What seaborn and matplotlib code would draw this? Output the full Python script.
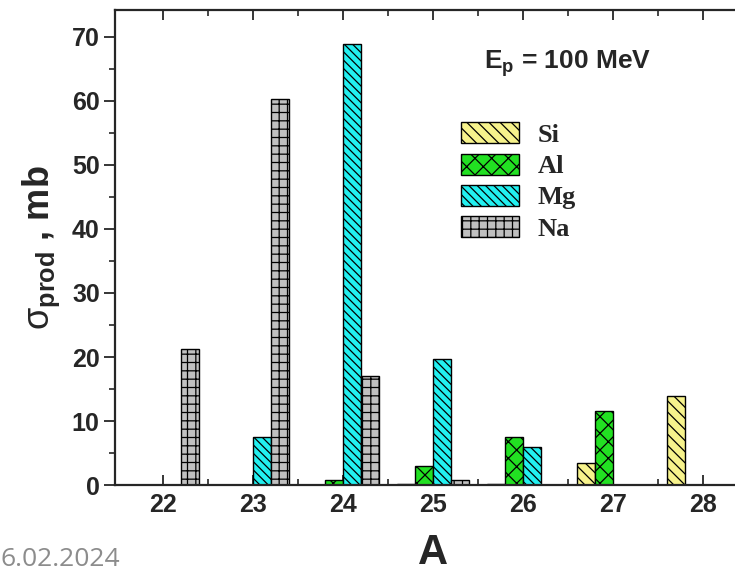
import numpy as np
import pandas as pd
import matplotlib
matplotlib.use("Agg")
import matplotlib.pyplot as plt
from matplotlib.patches import Patch
from matplotlib.ticker import MultipleLocator, FixedLocator
import seaborn as sns

# data (cross section, mb)
mass = ["22", "23", "24", "25", "26", "27", "28"]
si = [np.nan, np.nan, np.nan, 0.2, 0.2, 3.5, 13.9]
al = [np.nan, np.nan, 0.8, 2.9, 7.5, 11.5, np.nan]
mg = [np.nan, 7.5, 68.9, 19.7, 6.0, np.nan, np.nan]
na = [21.2, 60.3, 17.1, 0.8, np.nan, np.nan, np.nan]
elements = ["Si", "Al", "Mg", "Na"]

colors = {"Si": "#f7f38c", "Al": "#22e022", "Mg": "#22f0f0", "Na": "#c0c0c0"}
hatches = {"Si": "\\\\\\", "Al": "xx", "Mg": "\\\\\\\\", "Na": "++"}

df = pd.DataFrame({"A": mass, "Si": si, "Al": al, "Mg": mg, "Na": na})
df = df.melt(id_vars="A", var_name="element", value_name="sigma").dropna()

sns.set_style("ticks")
plt.rcParams["font.family"] = ["Liberation Sans", "DejaVu Sans"]
plt.rcParams["mathtext.fontset"] = "custom"
plt.rcParams["mathtext.rm"] = "Liberation Sans"
plt.rcParams["mathtext.bf"] = "Liberation Sans:bold"
plt.rcParams["hatch.linewidth"] = 0.9

fig = plt.figure(figsize=(7.35, 5.74), dpi=100)
ax = fig.add_axes([0.1565, 0.155, 0.8653, 0.8275])

sns.barplot(data=df, x="A", y="sigma", hue="element", order=mass,
            hue_order=elements, palette=colors, width=0.8, saturation=1,
            edgecolor="black", linewidth=1.0, ax=ax, legend=False)
for cont, el in zip(ax.containers, elements):
    for bar in cont:
        bar.set_hatch(hatches[el])

ax.set_xlim(-0.53, 6.53)
ax.set_ylim(0, 74.2)

for sp in ax.spines.values():
    sp.set_linewidth(1.6)
    sp.set_visible(True)

# y ticks
ax.yaxis.set_major_locator(MultipleLocator(10))
ax.yaxis.set_minor_locator(MultipleLocator(5))
ax.tick_params(axis="y", which="major", direction="out", length=8, width=1.3,
               labelsize=18, pad=3, right=False)
ax.tick_params(axis="y", which="minor", direction="out", length=4, width=1.2, right=False)
# x ticks
ax.xaxis.set_minor_locator(FixedLocator([0.5, 1.5, 2.5, 3.5, 4.5, 5.5]))
ax.tick_params(axis="x", which="major", direction="in", length=7, width=1.3,
               labelsize=18, pad=6, top=True)
ax.tick_params(axis="x", which="minor", direction="in", length=4, width=1.2, top=True)
for lab in ax.get_xticklabels() + ax.get_yticklabels():
    lab.set_fontweight("bold")

ax.set_xlabel("A", fontsize=30, fontweight="bold", labelpad=11)
ax.set_ylabel(r"$\mathrm{\sigma}_{\mathbf{prod}}$ , mb", fontsize=26, fontweight="bold",
              labelpad=7)

ax.text(0.58, 0.888, r"E$_\mathbf{p}$ = 100 MeV", transform=ax.transAxes,
        fontsize=19, fontweight="bold", va="center", ha="left")

handles = [Patch(facecolor=colors[e], edgecolor="black", hatch=hatches[e], linewidth=1.0)
           for e in elements]
ax.legend(handles, elements, loc="upper left", bbox_to_anchor=(0.527, 0.786),
          frameon=False, prop={"family": "Liberation Serif", "weight": "bold", "size": 19},
          handlelength=2.2, handleheight=0.85, labelspacing=0.25, handletextpad=0.7,
          borderaxespad=0)

fig.text(0.0, 0.004, "6.02.2024", fontsize=19, color="#8c8c8c",
         family=["Open Sans", "DejaVu Sans"], ha="left", va="bottom")

fig.savefig("out.png", dpi=100)
